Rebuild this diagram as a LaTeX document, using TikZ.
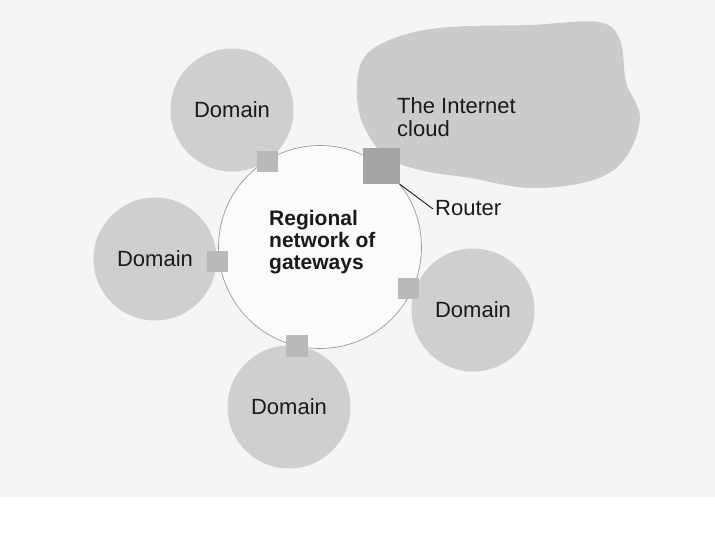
\documentclass[tikz,border=0pt]{standalone}
\usepackage{fontspec}
\setmainfont{Liberation Sans}
\definecolor{bgc}{HTML}{F5F5F5}
\definecolor{domc}{HTML}{CFCFCF}
\definecolor{cloudc}{HTML}{CBCBCB}
\definecolor{gwc}{HTML}{B9B9B9}
\definecolor{routc}{HTML}{A5A5A5}
\definecolor{ringc}{HTML}{9A9A9A}
\definecolor{txtc}{HTML}{1A1A1A}
\begin{document}
\begin{tikzpicture}[x=1pt,y=-1pt,
  dombox/.style={circle, fill=domc, minimum size=123pt, inner sep=0pt,
    text=txtc, font=\fontsize{22}{23}\selectfont},
  gwbox/.style={rectangle, fill=gwc, minimum width=21pt, minimum height=21pt, inner sep=0pt},
  lblbox/.style={text=txtc, font=\fontsize{22}{22.5}\selectfont, inner sep=0pt}]
\useasboundingbox (0,0) rectangle (715,534);
\fill[bgc] (0,0) rectangle (715,497);
% cloud
\fill[cloudc] plot[smooth cycle, tension=0.6] coordinates {
  (366,55) (400,36) (450,27) (530,25) (598,22) (620,40) (626,82) (640,118)
  (624,160) (590,181) (530,188) (470,178) (420,170) (385,156) (362,122) (357,85)};
% central ring
\node[circle, draw=ringc, line width=0.7pt, fill=white!60!bgc, minimum size=203pt, inner sep=0pt] (ring) at (320,247) {};
% domains
\node[dombox] (d1) at (232,110) {Domain};
\node[dombox] (d2) at (155,259) {Domain};
\node[dombox] (d3) at (473,310) {Domain};
\node[dombox] (d4) at (289,407) {Domain};
% gateways
\node[gwbox] (g1) at (267,162) {};
\node[gwbox] (g2) at (217,262) {};
\node[gwbox] (g3) at (408,289) {};
\node[gwbox, minimum width=22pt, minimum height=22pt] (g4) at (297,346) {};
\node[rectangle, fill=routc, minimum width=37pt, minimum height=36pt, inner sep=0pt] (router) at (381,166) {};
% texts
\node[lblbox, align=left, anchor=north west, font=\fontsize{21}{22}\selectfont\bfseries] (reg) at (269,210.5)
  {Regional\\network of\\gateways};
\node[lblbox, align=left, anchor=north west] (cloud) at (397,97.5) {The Internet\\cloud};
\node[lblbox, anchor=west] (rl) at (435,208) {Router};
\draw[txtc, line width=0.9pt] (router.south east) -- ([xshift=-2pt,yshift=-1pt]rl.west);
\end{tikzpicture}
\end{document}
